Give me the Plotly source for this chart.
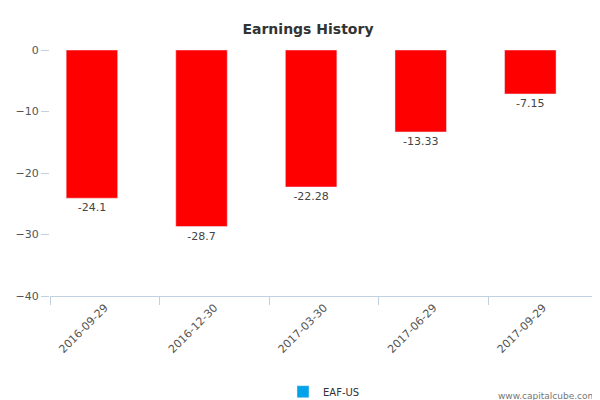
import plotly.graph_objects as go

dates = ["2016-09-29", "2016-12-30", "2017-03-30", "2017-06-29", "2017-09-29"]
eps = [-24.1, -28.7, -22.28, -13.33, -7.15]
labels = ["-24.1", "-28.7", "-22.28", "-13.33", "-7.15"]
series_name = "EAF-US"

fig = go.Figure()
fig.add_trace(go.Bar(
    x=dates, y=eps, text=labels, textposition="outside",
    textfont=dict(size=11, color="#444"), marker_color="#ff0000",
    width=0.47, showlegend=False, cliponaxis=False,
))
# legend entry only
fig.add_trace(go.Bar(x=[dates[0]], y=[None], name=series_name,
                     marker_color="#00a2e8", showlegend=True))

fig.update_layout(
    width=600, height=400,
    margin=dict(l=42, r=10, t=42, b=112, autoexpand=False),
    paper_bgcolor="white", plot_bgcolor="white",
    font=dict(family="DejaVu Sans", size=11, color="#444"),
    title=dict(text="<b>Earnings History</b>", x=0.5, y=0.96, xanchor="center",
               font=dict(size=14, color="#333")),
    bargap=0.53,
    xaxis=dict(type="category", tickangle=-45, showline=True,
               linecolor="#c0d0e0", ticks="outside", tickson="boundaries",
               tickcolor="#c0d0e0", ticklen=8, tickfont=dict(size=11, color="#555")),
    yaxis=dict(range=[-40, 0], dtick=10, showgrid=False, zeroline=False,
               ticks="outside", ticklen=8, tickcolor="#c0d0e0",
               tickfont=dict(size=11, color="#555")),
    legend=dict(orientation="h", x=0.5, xanchor="center", y=-0.33,
                yanchor="top", font=dict(size=10, color="#333")),
    annotations=[dict(text="www.capitalcube.com", xref="paper", yref="paper",
                      x=1.0, y=-0.38, xanchor="right", yanchor="top",
                      showarrow=False, font=dict(size=9, color="#777"))],
)

fig.write_html("out.html")
